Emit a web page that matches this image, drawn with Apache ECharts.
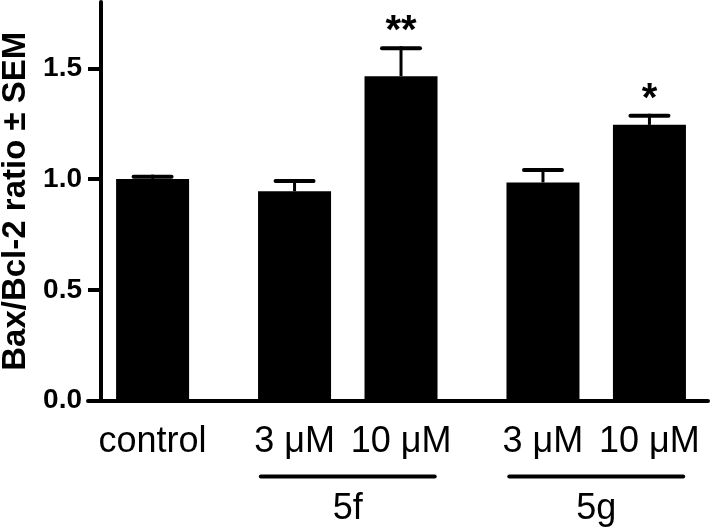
<!DOCTYPE html>
<html>
<head>
<meta charset="utf-8">
<script src="https://cdn.jsdelivr.net/npm/echarts@6/dist/echarts.min.js"></script>
<style>
  html, body { margin: 0; padding: 0; background: #fff; }
  #chart { width: 716px; height: 528px; }
</style>
</head>
<body>
<div id="chart"></div>
<script>
// data
const categories = ['control', '3 \u03bcM', '10 \u03bcM', '3 \u03bcM', '10 \u03bcM'];
const xPos = [0, 4, 7, 11, 14];          // slot positions along the x axis
const means = [1.00, 0.945, 1.465, 0.985, 1.245];
const sems = [0.02, 0.055, 0.135, 0.065, 0.05];
const stars = ['', '', '**', '', '*'];
const groups = [
  { name: '5f', members: [1, 2] },
  { name: '5g', members: [3, 4] }
];
const yTicks = [0, 0.5, 1.0, 1.5];

const FONT = '"Liberation Sans", Arial, sans-serif';

const barData = xPos.map((x, i) => [x, means[i]]);
const errData = xPos.map((x, i) => [x, means[i], means[i] + sems[i]]);
const groupData = groups.map(g => {
  const xs = g.members.map(i => xPos[i]);
  return [Math.min(...xs), Math.max(...xs)];
});

const option = {
  animation: false,
  grid: { left: 88, right: 8, top: 2, bottom: 127.5, outerBoundsMode: 'none', containLabel: false },
  xAxis: {
    type: 'value',
    min: -1.82,
    max: 15.65,
    splitLine: { show: false },
    axisTick: { show: false },
    axisLine: { lineStyle: { color: '#000', width: 4 } },
    axisLabel: {
      customValues: xPos,
      formatter: v => categories[xPos.indexOf(v)] || '',
      color: '#000',
      fontFamily: FONT,
      fontSize: 36,
      margin: 24
    }
  },
  yAxis: {
    type: 'value',
    min: 0,
    max: 1.8,
    offset: -13,
    name: 'Bax/Bcl-2 ratio \u00b1 SEM',
    nameLocation: 'middle',
    nameGap: 66,
    nameTextStyle: { color: '#000', fontFamily: FONT, fontSize: 33, fontWeight: 'bold' },
    splitLine: { show: false },
    axisLine: { show: true, onZero: false, lineStyle: { color: '#000', width: 4 } },
    axisTick: { show: true, customValues: yTicks, length: 13, lineStyle: { color: '#000', width: 4 } },
    axisLabel: {
      customValues: yTicks,
      formatter: v => v.toFixed(1),
      color: '#000',
      fontFamily: FONT,
      fontSize: 28,
      fontWeight: 'bold',
      margin: 19
    }
  },
  series: [
    {
      type: 'bar',
      data: barData,
      barWidth: 73,
      itemStyle: { color: '#000' },
      z: 2
    },
    {
      // upper error bars + significance stars
      type: 'custom',
      data: errData,
      z: 3,
      renderItem: (params, api) => {
        const x = api.value(0);
        const base = api.coord([x, api.value(1)]);
        const top = api.coord([x, api.value(2)]);
        const star = stars[params.dataIndex];
        const children = [
          { type: 'line', shape: { x1: top[0], y1: base[1], x2: top[0], y2: top[1] },
            style: { stroke: '#000', lineWidth: 3 } },
          { type: 'line', shape: { x1: top[0] - 19, y1: top[1] + 2, x2: top[0] + 19, y2: top[1] + 2 },
            style: { stroke: '#000', lineWidth: 4, lineCap: 'round' } }
        ];
        if (star) {
          children.push({ type: 'text',
            style: { text: star, x: top[0], y: top[1] - 14, align: 'center', verticalAlign: 'middle',
                     fill: '#000', font: 'bold 40px ' + FONT } });
        }
        return { type: 'group', children };
      }
    },
    {
      // group underlines and group names
      type: 'custom',
      data: groupData,
      z: 3,
      renderItem: (params, api) => {
        const a = api.coord([api.value(0) - 0.95, 0]);
        const b = api.coord([api.value(1) + 0.95, 0]);
        const name = groups[params.dataIndex].name;
        return {
          type: 'group',
          children: [
            { type: 'line', shape: { x1: a[0], y1: a[1] + 76, x2: b[0], y2: b[1] + 76 },
              style: { stroke: '#000', lineWidth: 4, lineCap: 'round' } },
            { type: 'text',
              style: { text: name, x: (a[0] + b[0]) / 2, y: a[1] + 109, align: 'center', verticalAlign: 'middle',
                       fill: '#000', font: '36px ' + FONT } }
          ]
        };
      }
    }
  ]
};

const chart = echarts.init(document.getElementById('chart'));
chart.setOption(option);
</script>
</body>
</html>
